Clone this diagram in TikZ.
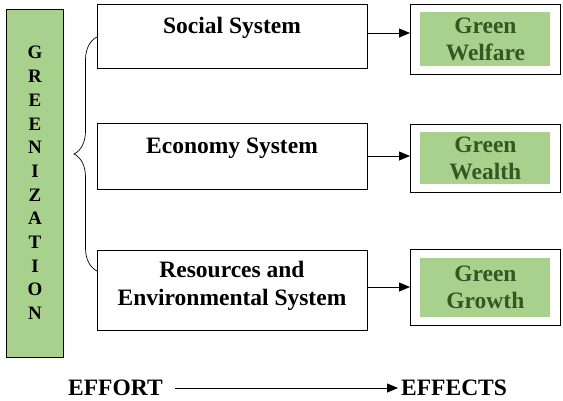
\documentclass[tikz,border=0pt]{standalone}
\usepackage{fontspec}
\setmainfont{Liberation Serif}
\usetikzlibrary{arrows.meta,decorations.pathreplacing}
\definecolor{gfill}{HTML}{A9D18E}
\definecolor{gtext}{HTML}{375623}
\begin{document}
\begin{tikzpicture}[x=1pt,y=-1pt,
  sysbox/.style={draw,line width=0.8pt,minimum width=270pt,anchor=north west},
  systext/.style={font=\bfseries\fontsize{23.5}{28}\selectfont,align=center,inner sep=0pt},
  effbox/.style={draw,line width=0.8pt,minimum width=150pt,anchor=north west},
  greenin/.style={fill=gfill,minimum width=130pt,font=\bfseries\fontsize{23.5}{27}\selectfont,text=gtext,align=center},
  arr/.style={-{Triangle[length=11pt,width=9pt]},line width=0.8pt}]
\useasboundingbox (0,0) rectangle (563,400);
% left bar
\node[draw,fill=gfill,line width=0.8pt,minimum width=57pt,minimum height=348pt,anchor=north west] (bar) at (6,9) {};
\node[font=\bfseries\fontsize{19}{23.7}\selectfont,align=center,inner sep=0pt] (gtxt) at (35,183) {G\\R\\E\\E\\N\\I\\Z\\A\\T\\I\\O\\N};
% system boxes
\node[sysbox,minimum height=64pt] (soc) at (97,4) {};
\node[systext] (soct) at (232,28) {Social System};
\node[sysbox,minimum height=66pt] (eco) at (97,123) {};
\node[systext] (ecot) at (232,148) {Economy System};
\node[sysbox,minimum height=80pt] (res) at (97,250) {};
\node[systext] (rest) at (232,286) {Resources and\\Environmental System};
% brace
\coordinate (bt) at (97,37);
\coordinate (bb) at (97,271);
\draw[line width=0.7pt,decorate,decoration={brace,amplitude=23pt,aspect=0.5}] (bb) -- (bt);
% effect boxes
\node[effbox,minimum height=70pt] (e1) at (410,4) {};
\node[greenin,minimum height=54pt] (g1) at (e1.center) {Green\\Welfare};
\node[effbox,minimum height=68pt] (e2) at (410,124) {};
\node[greenin,minimum height=52pt] (g2) at (e2.center) {Green\\Wealth};
\node[effbox,minimum height=76pt] (e3) at (410,249) {};
\node[greenin,minimum height=59pt] (g3) at (e3.center) {Green\\Growth};
% arrows
\draw[arr] (soc.east |- 0,33) -- (e1.west |- 0,33);
\draw[arr] (eco.east |- 0,156) -- (e2.west |- 0,156);
\draw[arr] (res.east |- 0,287) -- (e3.west |- 0,287);
% bottom
\node[font=\bfseries\fontsize{23.5}{27}\selectfont,anchor=west,inner sep=0pt] (eff) at (68,388) {EFFORT};
\node[font=\bfseries\fontsize{23.5}{27}\selectfont,anchor=west,inner sep=0pt] (effs) at (401,388) {EFFECTS};
\draw[arr] ([xshift=12pt]eff.east) -- ([xshift=-3pt]effs.west);
\end{tikzpicture}
\end{document}
